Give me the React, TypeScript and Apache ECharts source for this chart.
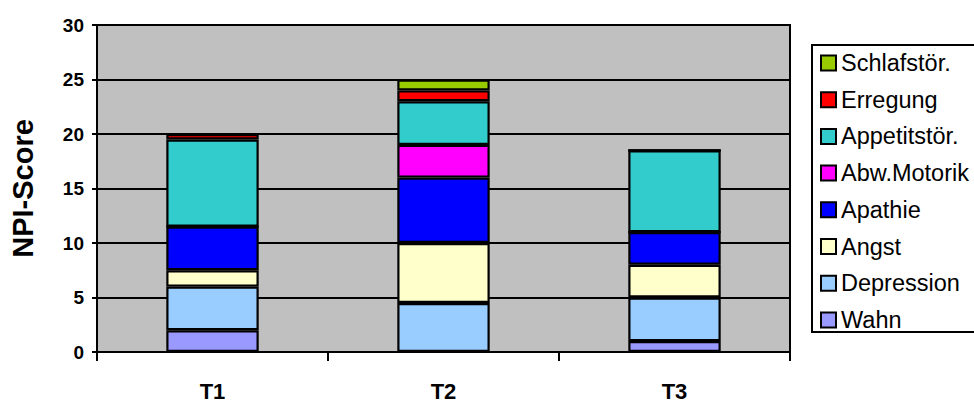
import React, { useEffect, useRef } from "react";
import * as echarts from "echarts";

const categories = ["T1", "T2", "T3"];
const seriesNames = ["Wahn", "Depression", "Angst", "Apathie", "Abw.Motorik", "Appetitstör.", "Erregung", "Schlafstör."];
const wahn = [2, 0, 1];
const depression = [4, 4.5, 4];
const angst = [1.5, 5.5, 3];
const apathie = [4, 6, 3];
const abwMotorik = [0, 3, 0];
const appetit = [8, 4, 7.5];
const erregung = [0.5, 1, 0];
const schlaf = [0, 1, 0];
const yTicks = [0, 5, 10, 15, 20, 25, 30];

const values = [wahn, depression, angst, apathie, abwMotorik, appetit, erregung, schlaf];
const colors = ["#9999FF", "#99CCFF", "#FFFFCC", "#0000FF", "#FF00FF", "#33CCCC", "#FF0000", "#99CC00"];

const FONT = "'Liberation Sans', Arial, sans-serif";

export default function App() {
  const ref = useRef<HTMLDivElement>(null);
  useEffect(() => {
    if (!ref.current) return;
    const chart = echarts.init(ref.current, null, { renderer: "svg" });
    chart.setOption({
      animation: false,
      backgroundColor: "#FFFFFF",
      textStyle: { fontFamily: FONT },
      grid: {
        left: 93,
        right: 184,
        top: 25,
        bottom: 52,
        show: true,
        backgroundColor: "#C0C0C0",
        borderColor: "#000",
        borderWidth: 2,
      },
      graphic: [
        {
          type: "rect",
          shape: { x: 812, y: 45, width: 200, height: 287 },
          style: { fill: "#FFFFFF", stroke: "#000", lineWidth: 2 },
          z: -1,
        },
      ],
      legend: {
        orient: "vertical",
        left: 820,
        top: 51,
        padding: 0,
        itemWidth: 15,
        itemHeight: 15,
        itemGap: 12.7,
        icon: "rect",
        data: seriesNames.slice().reverse(),
        itemStyle: { borderColor: "#000", borderWidth: 2 },
        textStyle: { fontFamily: FONT, fontSize: 23.5, lineHeight: 23, color: "#000", padding: [0, 0, 0, 0] },
      },
      xAxis: {
        type: "category",
        data: categories,
        axisLine: { lineStyle: { color: "#000", width: 2 } },
        axisTick: { show: true, length: 9, alignWithLabel: false, lineStyle: { color: "#000", width: 2 } },
        axisLabel: { color: "#000", fontWeight: "bold", fontSize: 22, fontFamily: FONT, margin: 28 },
      },
      yAxis: {
        type: "value",
        min: yTicks[0],
        max: yTicks[yTicks.length - 1],
        interval: 5,
        name: "NPI-Score",
        nameLocation: "middle",
        nameGap: 60,
        nameTextStyle: { color: "#000", fontWeight: "bold", fontSize: 29, fontFamily: FONT },
        axisLine: { show: true, lineStyle: { color: "#000", width: 2 } },
        axisTick: { show: true, length: 5, lineStyle: { color: "#000", width: 2 } },
        axisLabel: { color: "#000", fontWeight: "bold", fontSize: 19, fontFamily: FONT, margin: 13 },
        splitLine: { show: true, lineStyle: { color: "#000", width: 2 } },
      },
      series: seriesNames.map((name, i) => ({
        name,
        type: "bar",
        stack: "npi",
        barWidth: "40%",
        data: values[i],
        itemStyle: { color: colors[i], borderColor: "#000", borderWidth: 2.2 },
      })),
    });
    return () => chart.dispose();
  }, []);
  return <div ref={ref} style={{ position: "fixed", left: 0, top: 0, width: 974, height: 404 }} />;
}
